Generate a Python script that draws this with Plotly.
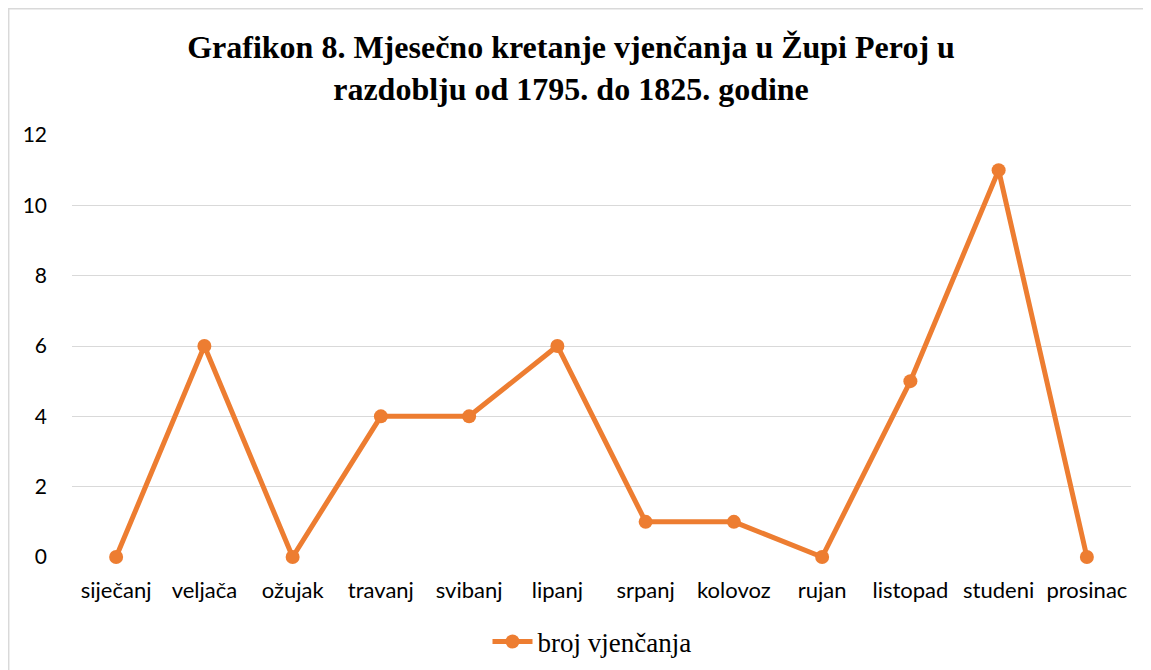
import plotly.graph_objects as go

months = ["siječanj", "veljača", "ožujak", "travanj", "svibanj", "lipanj",
          "srpanj", "kolovoz", "rujan", "listopad", "studeni", "prosinac"]
weddings = [0, 6, 0, 4, 4, 6, 1, 1, 0, 5, 11, 0]
y_ticks = [0, 2, 4, 6, 8, 10, 12]
series_name = "broj vjenčanja"
title_text = "Grafikon 8. Mjesečno kretanje vjenčanja u Župi Peroj u<br>razdoblju od 1795. do 1825. godine"

ORANGE = "#ED7D31"

fig = go.Figure()
fig.add_trace(go.Scatter(
    x=months, y=weddings, mode="lines+markers", name=series_name,
    line=dict(color=ORANGE, width=5),
    marker=dict(color=ORANGE, size=14),
    cliponaxis=False,
))

# the page body adds an 8px offset, so figure coords = page coords - 8
W, H = 1143, 662
L, T = 64, 127
R = W - (1131 - 8)
B = H - (557 - 8)
pw, ph = W - L - R, H - T - B

def px_x(page_x):
    return (page_x - 8 - L) / pw

def px_y(page_y):
    return ((557 - 8) - (page_y - 8)) / ph

fig.update_layout(
    width=W, height=H,
    margin=dict(l=L, r=R, t=T, b=B, autoexpand=False),
    paper_bgcolor="white", plot_bgcolor="white",
    title=dict(text=title_text, x=px_x(571), xref="paper", xanchor="center",
               y=1 - 50 / H, yanchor="top",
               font=dict(family="Liberation Serif", size=32, color="#000000", weight="bold")),
    showlegend=True,
    legend=dict(orientation="h", x=px_x(592), xanchor="center", y=px_y(642), yanchor="middle",
                font=dict(family="Liberation Serif", size=27, color="#000000"),
                itemwidth=40),
    xaxis=dict(range=[-0.5, len(months) - 0.5], showgrid=False, showline=False, zeroline=False, ticks="",
               tickfont=dict(family="Lato", size=22, color="#000000"),
               ticklabelstandoff=18, automargin=False),
    yaxis=dict(range=[0, 12], tickvals=y_ticks, showgrid=True, gridcolor="#D9D9D9", gridwidth=1.3,
               zeroline=False, showline=False, ticks="",
               tickfont=dict(family="Lato", size=21, color="#000000"),
               ticklabelstandoff=24, automargin=False),
    shapes=[dict(type="rect", xref="paper", yref="paper",
                 x0=px_x(8.7), x1=px_x(1250),
                 y0=px_y(750), y1=px_y(8.7),
                 line=dict(color="#D9D9D9", width=1.5), fillcolor="rgba(0,0,0,0)", layer="below")],
)

fig.write_html("out.html")
